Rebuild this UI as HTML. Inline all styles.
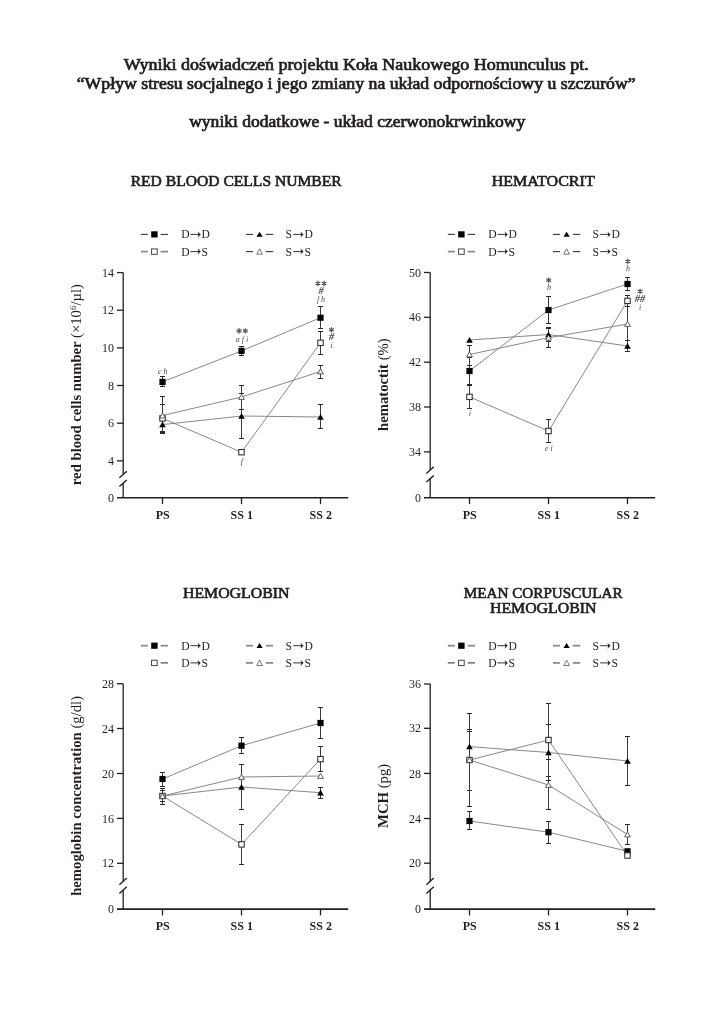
<!DOCTYPE html>
<html><head><meta charset="utf-8"><title>Wyniki</title>
<style>
html,body{margin:0;padding:0;background:#fff;}
body{width:725px;height:1024px;overflow:hidden;}
svg{display:block;font-family:"Liberation Serif", serif;will-change:transform;opacity:0.999;}
</style></head><body>
<svg width="725" height="1024" viewBox="0 0 725 1024">

<text x="356.20" y="69.50" font-size="16" font-weight="normal" font-style="normal" text-anchor="middle" fill="#231f20" stroke="#231f20" stroke-width="0.7" textLength="465" lengthAdjust="spacingAndGlyphs">Wyniki doświadczeń projektu Koła Naukowego Homunculus pt.</text>
<text x="356.20" y="88.70" font-size="16" font-weight="normal" font-style="normal" text-anchor="middle" fill="#231f20" stroke="#231f20" stroke-width="0.7" textLength="559" lengthAdjust="spacingAndGlyphs">“Wpływ stresu socjalnego i jego zmiany na układ odpornościowy u szczurów”</text>
<text x="357.20" y="126.80" font-size="16" font-weight="normal" font-style="normal" text-anchor="middle" fill="#231f20" stroke="#231f20" stroke-width="0.7" textLength="336" lengthAdjust="spacingAndGlyphs">wyniki dodatkowe - układ czerwonokrwinkowy</text>
<text x="236.20" y="186.30" font-size="14" font-weight="normal" font-style="normal" text-anchor="middle" fill="#231f20" stroke="#231f20" stroke-width="0.6" textLength="211" lengthAdjust="spacingAndGlyphs">RED BLOOD CELLS NUMBER</text>
<line x1="140.80" y1="234.40" x2="147.80" y2="234.40" stroke="#383838" stroke-width="1.1" />
<line x1="160.60" y1="234.40" x2="168.00" y2="234.40" stroke="#383838" stroke-width="1.1" />
<rect x="151.20" y="231.30" width="6.4" height="6.2" fill="#000"/>
<text x="181.20" y="238.40" font-size="11.6" font-weight="normal" font-style="normal" text-anchor="start" fill="#231f20" >D</text>
<line x1="190.40" y1="234.40" x2="199.30" y2="234.40" stroke="#333" stroke-width="1.0" />
<path d="M200.80,234.40 L197.60,231.40 L198.60,234.40 L197.60,237.40 Z" fill="#222"/>
<text x="201.60" y="238.40" font-size="11.6" font-weight="normal" font-style="normal" text-anchor="start" fill="#231f20" >D</text>
<line x1="140.80" y1="251.60" x2="147.80" y2="251.60" stroke="#8c8c8c" stroke-width="1.8" />
<line x1="160.60" y1="251.60" x2="168.00" y2="251.60" stroke="#8c8c8c" stroke-width="1.8" />
<rect x="151.60" y="248.90" width="5.6" height="5.4" fill="#fff" stroke="#333" stroke-width="0.9"/>
<text x="181.20" y="255.60" font-size="11.6" font-weight="normal" font-style="normal" text-anchor="start" fill="#231f20" >D</text>
<line x1="190.40" y1="251.60" x2="199.30" y2="251.60" stroke="#333" stroke-width="1.0" />
<path d="M200.80,251.60 L197.60,248.60 L198.60,251.60 L197.60,254.60 Z" fill="#222"/>
<text x="201.60" y="255.60" font-size="11.6" font-weight="normal" font-style="normal" text-anchor="start" fill="#231f20" >S</text>
<line x1="246.00" y1="234.40" x2="253.00" y2="234.40" stroke="#383838" stroke-width="1.1" />
<line x1="265.80" y1="234.40" x2="273.20" y2="234.40" stroke="#383838" stroke-width="1.1" />
<polygon points="259.60,231.80 262.70,236.80 256.50,236.80" fill="#000"/>
<text x="285.60" y="238.40" font-size="11.6" font-weight="normal" font-style="normal" text-anchor="start" fill="#231f20" >S</text>
<line x1="293.20" y1="234.40" x2="302.10" y2="234.40" stroke="#333" stroke-width="1.0" />
<path d="M303.60,234.40 L300.40,231.40 L301.40,234.40 L300.40,237.40 Z" fill="#222"/>
<text x="304.40" y="238.40" font-size="11.6" font-weight="normal" font-style="normal" text-anchor="start" fill="#231f20" >D</text>
<line x1="246.00" y1="251.60" x2="253.00" y2="251.60" stroke="#383838" stroke-width="1.1" />
<line x1="265.80" y1="251.60" x2="273.20" y2="251.60" stroke="#383838" stroke-width="1.1" />
<polygon points="259.60,248.80 262.40,254.20 256.80,254.20" fill="#fff" stroke="#555" stroke-width="0.8"/>
<text x="285.60" y="255.60" font-size="11.6" font-weight="normal" font-style="normal" text-anchor="start" fill="#231f20" >S</text>
<line x1="293.20" y1="251.60" x2="302.10" y2="251.60" stroke="#333" stroke-width="1.0" />
<path d="M303.60,251.60 L300.40,248.60 L301.40,251.60 L300.40,254.60 Z" fill="#222"/>
<text x="304.40" y="255.60" font-size="11.6" font-weight="normal" font-style="normal" text-anchor="start" fill="#231f20" >S</text>
<line x1="123.20" y1="272.60" x2="123.20" y2="474.50" stroke="#231f20" stroke-width="1.3" />
<line x1="123.20" y1="483.30" x2="123.20" y2="497.80" stroke="#231f20" stroke-width="1.3" />
<line x1="119.40" y1="477.80" x2="126.80" y2="471.20" stroke="#231f20" stroke-width="1.4" />
<line x1="119.40" y1="486.60" x2="126.80" y2="480.00" stroke="#231f20" stroke-width="1.4" />
<line x1="117.00" y1="272.60" x2="123.20" y2="272.60" stroke="#231f20" stroke-width="1.3" />
<text x="113.90" y="276.70" font-size="12" font-weight="normal" font-style="normal" text-anchor="end" fill="#231f20" >14</text>
<line x1="117.00" y1="310.20" x2="123.20" y2="310.20" stroke="#231f20" stroke-width="1.3" />
<text x="113.90" y="314.30" font-size="12" font-weight="normal" font-style="normal" text-anchor="end" fill="#231f20" >12</text>
<line x1="117.00" y1="347.90" x2="123.20" y2="347.90" stroke="#231f20" stroke-width="1.3" />
<text x="113.90" y="352.00" font-size="12" font-weight="normal" font-style="normal" text-anchor="end" fill="#231f20" >10</text>
<line x1="117.00" y1="385.50" x2="123.20" y2="385.50" stroke="#231f20" stroke-width="1.3" />
<text x="113.90" y="389.60" font-size="12" font-weight="normal" font-style="normal" text-anchor="end" fill="#231f20" >8</text>
<line x1="117.00" y1="423.20" x2="123.20" y2="423.20" stroke="#231f20" stroke-width="1.3" />
<text x="113.90" y="427.30" font-size="12" font-weight="normal" font-style="normal" text-anchor="end" fill="#231f20" >6</text>
<line x1="117.00" y1="460.90" x2="123.20" y2="460.90" stroke="#231f20" stroke-width="1.3" />
<text x="113.90" y="465.00" font-size="12" font-weight="normal" font-style="normal" text-anchor="end" fill="#231f20" >4</text>
<line x1="117.00" y1="497.80" x2="348.20" y2="497.80" stroke="#231f20" stroke-width="1.6" />
<text x="113.90" y="501.90" font-size="12" font-weight="normal" font-style="normal" text-anchor="end" fill="#231f20" >0</text>
<line x1="162.50" y1="497.80" x2="162.50" y2="504.10" stroke="#231f20" stroke-width="1.3" />
<text x="162.80" y="518.80" font-size="12" font-weight="bold" font-style="normal" text-anchor="middle" fill="#231f20" >PS</text>
<line x1="241.50" y1="497.80" x2="241.50" y2="504.10" stroke="#231f20" stroke-width="1.3" />
<text x="241.80" y="518.80" font-size="12" font-weight="bold" font-style="normal" text-anchor="middle" fill="#231f20" >SS 1</text>
<line x1="320.50" y1="497.80" x2="320.50" y2="504.10" stroke="#231f20" stroke-width="1.3" />
<text x="320.80" y="518.80" font-size="12" font-weight="bold" font-style="normal" text-anchor="middle" fill="#231f20" >SS 2</text>
<text transform="translate(81.00,384.60) rotate(-90)" x="0" y="0" font-size="14.7" text-anchor="middle" fill="#231f20"><tspan font-weight="bold">red blood cells number </tspan><tspan font-weight="normal">(×10<tspan dy="-5" font-size="9">6</tspan><tspan dy="5">/µl)</tspan></tspan></text>
<polyline points="162.50,381.90 241.50,350.90 320.50,317.70" fill="none" stroke="#7a7a7a" stroke-width="0.9"/>
<polyline points="162.50,418.40 241.50,452.20 320.50,342.80" fill="none" stroke="#7a7a7a" stroke-width="0.9"/>
<polyline points="162.50,424.60 241.50,416.00 320.50,417.00" fill="none" stroke="#7a7a7a" stroke-width="0.9"/>
<polyline points="162.50,415.50 241.50,397.00 320.50,371.50" fill="none" stroke="#7a7a7a" stroke-width="0.9"/>
<line x1="162.50" y1="376.50" x2="162.50" y2="381.90" stroke="#3a3a3a" stroke-width="1.0" />
<line x1="160.00" y1="376.50" x2="165.00" y2="376.50" stroke="#2a2a2a" stroke-width="1.0" />
<line x1="162.50" y1="381.90" x2="162.50" y2="386.50" stroke="#3a3a3a" stroke-width="1.0" />
<line x1="160.00" y1="386.50" x2="165.00" y2="386.50" stroke="#2a2a2a" stroke-width="1.0" />
<line x1="241.50" y1="346.50" x2="241.50" y2="350.90" stroke="#3a3a3a" stroke-width="1.0" />
<line x1="239.00" y1="346.50" x2="244.00" y2="346.50" stroke="#2a2a2a" stroke-width="1.0" />
<line x1="241.50" y1="350.90" x2="241.50" y2="355.50" stroke="#3a3a3a" stroke-width="1.0" />
<line x1="239.00" y1="355.50" x2="244.00" y2="355.50" stroke="#2a2a2a" stroke-width="1.0" />
<line x1="320.50" y1="306.50" x2="320.50" y2="317.70" stroke="#3a3a3a" stroke-width="1.0" />
<line x1="318.00" y1="306.50" x2="323.00" y2="306.50" stroke="#2a2a2a" stroke-width="1.0" />
<line x1="320.50" y1="317.70" x2="320.50" y2="328.50" stroke="#3a3a3a" stroke-width="1.0" />
<line x1="318.00" y1="328.50" x2="323.00" y2="328.50" stroke="#2a2a2a" stroke-width="1.0" />
<line x1="162.50" y1="404.50" x2="162.50" y2="418.40" stroke="#3a3a3a" stroke-width="1.0" />
<line x1="160.00" y1="404.50" x2="165.00" y2="404.50" stroke="#2a2a2a" stroke-width="1.0" />
<line x1="162.50" y1="418.40" x2="162.50" y2="432.50" stroke="#3a3a3a" stroke-width="1.0" />
<line x1="160.00" y1="432.50" x2="165.00" y2="432.50" stroke="#2a2a2a" stroke-width="1.0" />
<line x1="320.50" y1="331.50" x2="320.50" y2="342.80" stroke="#3a3a3a" stroke-width="1.0" />
<line x1="318.00" y1="331.50" x2="323.00" y2="331.50" stroke="#2a2a2a" stroke-width="1.0" />
<line x1="320.50" y1="342.80" x2="320.50" y2="354.50" stroke="#3a3a3a" stroke-width="1.0" />
<line x1="318.00" y1="354.50" x2="323.00" y2="354.50" stroke="#2a2a2a" stroke-width="1.0" />
<line x1="162.50" y1="418.50" x2="162.50" y2="424.60" stroke="#3a3a3a" stroke-width="1.0" />
<line x1="160.00" y1="418.50" x2="165.00" y2="418.50" stroke="#2a2a2a" stroke-width="1.0" />
<line x1="162.50" y1="424.60" x2="162.50" y2="431.50" stroke="#3a3a3a" stroke-width="1.0" />
<line x1="160.00" y1="431.50" x2="165.00" y2="431.50" stroke="#2a2a2a" stroke-width="1.0" />
<line x1="241.50" y1="393.50" x2="241.50" y2="416.00" stroke="#3a3a3a" stroke-width="1.0" />
<line x1="239.00" y1="393.50" x2="244.00" y2="393.50" stroke="#2a2a2a" stroke-width="1.0" />
<line x1="241.50" y1="416.00" x2="241.50" y2="438.50" stroke="#3a3a3a" stroke-width="1.0" />
<line x1="239.00" y1="438.50" x2="244.00" y2="438.50" stroke="#2a2a2a" stroke-width="1.0" />
<line x1="320.50" y1="404.50" x2="320.50" y2="417.00" stroke="#3a3a3a" stroke-width="1.0" />
<line x1="318.00" y1="404.50" x2="323.00" y2="404.50" stroke="#2a2a2a" stroke-width="1.0" />
<line x1="320.50" y1="417.00" x2="320.50" y2="428.50" stroke="#3a3a3a" stroke-width="1.0" />
<line x1="318.00" y1="428.50" x2="323.00" y2="428.50" stroke="#2a2a2a" stroke-width="1.0" />
<line x1="162.50" y1="396.50" x2="162.50" y2="415.50" stroke="#3a3a3a" stroke-width="1.0" />
<line x1="160.00" y1="396.50" x2="165.00" y2="396.50" stroke="#2a2a2a" stroke-width="1.0" />
<line x1="162.50" y1="415.50" x2="162.50" y2="433.50" stroke="#3a3a3a" stroke-width="1.0" />
<line x1="160.00" y1="433.50" x2="165.00" y2="433.50" stroke="#2a2a2a" stroke-width="1.0" />
<line x1="241.50" y1="385.50" x2="241.50" y2="397.00" stroke="#3a3a3a" stroke-width="1.0" />
<line x1="239.00" y1="385.50" x2="244.00" y2="385.50" stroke="#2a2a2a" stroke-width="1.0" />
<line x1="241.50" y1="397.00" x2="241.50" y2="409.50" stroke="#3a3a3a" stroke-width="1.0" />
<line x1="239.00" y1="409.50" x2="244.00" y2="409.50" stroke="#2a2a2a" stroke-width="1.0" />
<line x1="320.50" y1="365.50" x2="320.50" y2="371.50" stroke="#3a3a3a" stroke-width="1.0" />
<line x1="318.00" y1="365.50" x2="323.00" y2="365.50" stroke="#2a2a2a" stroke-width="1.0" />
<line x1="320.50" y1="371.50" x2="320.50" y2="378.50" stroke="#3a3a3a" stroke-width="1.0" />
<line x1="318.00" y1="378.50" x2="323.00" y2="378.50" stroke="#2a2a2a" stroke-width="1.0" />
<rect x="159.40" y="378.80" width="6.2" height="6.2" fill="#000"/>
<rect x="238.40" y="347.80" width="6.2" height="6.2" fill="#000"/>
<rect x="317.40" y="314.60" width="6.2" height="6.2" fill="#000"/>
<rect x="159.80" y="415.70" width="5.4" height="5.4" fill="#fff" stroke="#222" stroke-width="1.0"/>
<rect x="238.80" y="449.50" width="5.4" height="5.4" fill="#fff" stroke="#222" stroke-width="1.0"/>
<rect x="317.80" y="340.10" width="5.4" height="5.4" fill="#fff" stroke="#222" stroke-width="1.0"/>
<polygon points="162.50,421.50 165.80,427.30 159.20,427.30" fill="#000"/>
<polygon points="241.50,412.90 244.80,418.70 238.20,418.70" fill="#000"/>
<polygon points="320.50,413.90 323.80,419.70 317.20,419.70" fill="#000"/>
<polygon points="162.50,412.80 165.40,417.90 159.60,417.90" fill="#fff" stroke="#444" stroke-width="0.85"/>
<polygon points="241.50,394.30 244.40,399.40 238.60,399.40" fill="#fff" stroke="#444" stroke-width="0.85"/>
<polygon points="320.50,368.80 323.40,373.90 317.60,373.90" fill="#fff" stroke="#444" stroke-width="0.85"/>
<text x="162.80" y="373.70" font-size="8" font-weight="normal" font-style="italic" text-anchor="middle" fill="#4a4a4a" >c h</text>
<path d="M239.10,328.60 L239.10,333.20 M237.11,329.75 L241.09,332.05 M241.09,329.75 L237.11,332.05 " stroke="#555" stroke-width="1.2" stroke-linecap="round" fill="none"/>
<path d="M245.30,328.60 L245.30,333.20 M243.31,329.75 L247.29,332.05 M247.29,329.75 L243.31,332.05 " stroke="#555" stroke-width="1.2" stroke-linecap="round" fill="none"/>
<text x="241.90" y="341.50" font-size="8" font-weight="normal" font-style="italic" text-anchor="middle" fill="#4a4a4a" >a f i</text>
<text x="241.90" y="463.80" font-size="8" font-weight="normal" font-style="italic" text-anchor="middle" fill="#4a4a4a" >f</text>
<path d="M317.90,281.20 L317.90,285.80 M315.91,282.35 L319.89,284.65 M319.89,282.35 L315.91,284.65 " stroke="#555" stroke-width="1.2" stroke-linecap="round" fill="none"/>
<path d="M324.10,281.20 L324.10,285.80 M322.11,282.35 L326.09,284.65 M326.09,282.35 L322.11,284.65 " stroke="#555" stroke-width="1.2" stroke-linecap="round" fill="none"/>
<text x="321.00" y="293.80" font-size="10.5" font-weight="bold" font-style="italic" text-anchor="middle" fill="#4a4a4a" >#</text>
<text x="321.00" y="301.60" font-size="8" font-weight="normal" font-style="italic" text-anchor="middle" fill="#4a4a4a" >f h</text>
<path d="M331.50,327.50 L331.50,332.10 M329.51,328.65 L333.49,330.95 M333.49,328.65 L329.51,330.95 " stroke="#555" stroke-width="1.2" stroke-linecap="round" fill="none"/>
<text x="331.50" y="340.30" font-size="10.5" font-weight="bold" font-style="italic" text-anchor="middle" fill="#4a4a4a" >#</text>
<text x="331.50" y="348.00" font-size="8" font-weight="normal" font-style="italic" text-anchor="middle" fill="#4a4a4a" >i</text>
<text x="543.20" y="186.30" font-size="14" font-weight="normal" font-style="normal" text-anchor="middle" fill="#231f20" stroke="#231f20" stroke-width="0.6" textLength="103" lengthAdjust="spacingAndGlyphs">HEMATOCRIT</text>
<line x1="447.80" y1="234.40" x2="454.80" y2="234.40" stroke="#383838" stroke-width="1.1" />
<line x1="467.60" y1="234.40" x2="475.00" y2="234.40" stroke="#383838" stroke-width="1.1" />
<rect x="458.20" y="231.30" width="6.4" height="6.2" fill="#000"/>
<text x="488.20" y="238.40" font-size="11.6" font-weight="normal" font-style="normal" text-anchor="start" fill="#231f20" >D</text>
<line x1="497.40" y1="234.40" x2="506.30" y2="234.40" stroke="#333" stroke-width="1.0" />
<path d="M507.80,234.40 L504.60,231.40 L505.60,234.40 L504.60,237.40 Z" fill="#222"/>
<text x="508.60" y="238.40" font-size="11.6" font-weight="normal" font-style="normal" text-anchor="start" fill="#231f20" >D</text>
<line x1="447.80" y1="251.60" x2="454.80" y2="251.60" stroke="#8c8c8c" stroke-width="1.8" />
<line x1="467.60" y1="251.60" x2="475.00" y2="251.60" stroke="#8c8c8c" stroke-width="1.8" />
<rect x="458.60" y="248.90" width="5.6" height="5.4" fill="#fff" stroke="#333" stroke-width="0.9"/>
<text x="488.20" y="255.60" font-size="11.6" font-weight="normal" font-style="normal" text-anchor="start" fill="#231f20" >D</text>
<line x1="497.40" y1="251.60" x2="506.30" y2="251.60" stroke="#333" stroke-width="1.0" />
<path d="M507.80,251.60 L504.60,248.60 L505.60,251.60 L504.60,254.60 Z" fill="#222"/>
<text x="508.60" y="255.60" font-size="11.6" font-weight="normal" font-style="normal" text-anchor="start" fill="#231f20" >S</text>
<line x1="553.00" y1="234.40" x2="560.00" y2="234.40" stroke="#383838" stroke-width="1.1" />
<line x1="572.80" y1="234.40" x2="580.20" y2="234.40" stroke="#383838" stroke-width="1.1" />
<polygon points="566.60,231.80 569.70,236.80 563.50,236.80" fill="#000"/>
<text x="592.60" y="238.40" font-size="11.6" font-weight="normal" font-style="normal" text-anchor="start" fill="#231f20" >S</text>
<line x1="600.20" y1="234.40" x2="609.10" y2="234.40" stroke="#333" stroke-width="1.0" />
<path d="M610.60,234.40 L607.40,231.40 L608.40,234.40 L607.40,237.40 Z" fill="#222"/>
<text x="611.40" y="238.40" font-size="11.6" font-weight="normal" font-style="normal" text-anchor="start" fill="#231f20" >D</text>
<line x1="553.00" y1="251.60" x2="560.00" y2="251.60" stroke="#383838" stroke-width="1.1" />
<line x1="572.80" y1="251.60" x2="580.20" y2="251.60" stroke="#383838" stroke-width="1.1" />
<polygon points="566.60,248.80 569.40,254.20 563.80,254.20" fill="#fff" stroke="#555" stroke-width="0.8"/>
<text x="592.60" y="255.60" font-size="11.6" font-weight="normal" font-style="normal" text-anchor="start" fill="#231f20" >S</text>
<line x1="600.20" y1="251.60" x2="609.10" y2="251.60" stroke="#333" stroke-width="1.0" />
<path d="M610.60,251.60 L607.40,248.60 L608.40,251.60 L607.40,254.60 Z" fill="#222"/>
<text x="611.40" y="255.60" font-size="11.6" font-weight="normal" font-style="normal" text-anchor="start" fill="#231f20" >S</text>
<line x1="430.20" y1="272.50" x2="430.20" y2="470.10" stroke="#231f20" stroke-width="1.3" />
<line x1="430.20" y1="478.80" x2="430.20" y2="497.80" stroke="#231f20" stroke-width="1.3" />
<line x1="426.40" y1="473.40" x2="433.80" y2="466.80" stroke="#231f20" stroke-width="1.4" />
<line x1="426.40" y1="482.10" x2="433.80" y2="475.50" stroke="#231f20" stroke-width="1.4" />
<line x1="424.00" y1="272.50" x2="430.20" y2="272.50" stroke="#231f20" stroke-width="1.3" />
<text x="420.90" y="276.60" font-size="12" font-weight="normal" font-style="normal" text-anchor="end" fill="#231f20" >50</text>
<line x1="424.00" y1="317.30" x2="430.20" y2="317.30" stroke="#231f20" stroke-width="1.3" />
<text x="420.90" y="321.40" font-size="12" font-weight="normal" font-style="normal" text-anchor="end" fill="#231f20" >46</text>
<line x1="424.00" y1="362.20" x2="430.20" y2="362.20" stroke="#231f20" stroke-width="1.3" />
<text x="420.90" y="366.30" font-size="12" font-weight="normal" font-style="normal" text-anchor="end" fill="#231f20" >42</text>
<line x1="424.00" y1="407.00" x2="430.20" y2="407.00" stroke="#231f20" stroke-width="1.3" />
<text x="420.90" y="411.10" font-size="12" font-weight="normal" font-style="normal" text-anchor="end" fill="#231f20" >38</text>
<line x1="424.00" y1="451.90" x2="430.20" y2="451.90" stroke="#231f20" stroke-width="1.3" />
<text x="420.90" y="456.00" font-size="12" font-weight="normal" font-style="normal" text-anchor="end" fill="#231f20" >34</text>
<line x1="424.00" y1="497.80" x2="655.20" y2="497.80" stroke="#231f20" stroke-width="1.6" />
<text x="420.90" y="501.90" font-size="12" font-weight="normal" font-style="normal" text-anchor="end" fill="#231f20" >0</text>
<line x1="469.50" y1="497.80" x2="469.50" y2="504.10" stroke="#231f20" stroke-width="1.3" />
<text x="469.80" y="518.80" font-size="12" font-weight="bold" font-style="normal" text-anchor="middle" fill="#231f20" >PS</text>
<line x1="548.50" y1="497.80" x2="548.50" y2="504.10" stroke="#231f20" stroke-width="1.3" />
<text x="548.80" y="518.80" font-size="12" font-weight="bold" font-style="normal" text-anchor="middle" fill="#231f20" >SS 1</text>
<line x1="627.50" y1="497.80" x2="627.50" y2="504.10" stroke="#231f20" stroke-width="1.3" />
<text x="627.80" y="518.80" font-size="12" font-weight="bold" font-style="normal" text-anchor="middle" fill="#231f20" >SS 2</text>
<text transform="translate(388.00,384.60) rotate(-90)" x="0" y="0" font-size="14.7" text-anchor="middle" fill="#231f20"><tspan font-weight="bold">hematoctit </tspan><tspan font-weight="normal">(%)</tspan></text>
<polyline points="469.50,371.00 548.50,310.00 627.50,284.00" fill="none" stroke="#7a7a7a" stroke-width="0.9"/>
<polyline points="469.50,396.90 548.50,431.00 627.50,300.90" fill="none" stroke="#7a7a7a" stroke-width="0.9"/>
<polyline points="469.50,340.00 548.50,334.50 627.50,346.00" fill="none" stroke="#7a7a7a" stroke-width="0.9"/>
<polyline points="469.50,354.50 548.50,337.70 627.50,324.00" fill="none" stroke="#7a7a7a" stroke-width="0.9"/>
<line x1="469.50" y1="357.50" x2="469.50" y2="371.00" stroke="#3a3a3a" stroke-width="1.0" />
<line x1="467.00" y1="357.50" x2="472.00" y2="357.50" stroke="#2a2a2a" stroke-width="1.0" />
<line x1="469.50" y1="371.00" x2="469.50" y2="384.50" stroke="#3a3a3a" stroke-width="1.0" />
<line x1="467.00" y1="384.50" x2="472.00" y2="384.50" stroke="#2a2a2a" stroke-width="1.0" />
<line x1="548.50" y1="296.50" x2="548.50" y2="310.00" stroke="#3a3a3a" stroke-width="1.0" />
<line x1="546.00" y1="296.50" x2="551.00" y2="296.50" stroke="#2a2a2a" stroke-width="1.0" />
<line x1="548.50" y1="310.00" x2="548.50" y2="323.50" stroke="#3a3a3a" stroke-width="1.0" />
<line x1="546.00" y1="323.50" x2="551.00" y2="323.50" stroke="#2a2a2a" stroke-width="1.0" />
<line x1="627.50" y1="277.50" x2="627.50" y2="284.00" stroke="#3a3a3a" stroke-width="1.0" />
<line x1="625.00" y1="277.50" x2="630.00" y2="277.50" stroke="#2a2a2a" stroke-width="1.0" />
<line x1="627.50" y1="284.00" x2="627.50" y2="290.50" stroke="#3a3a3a" stroke-width="1.0" />
<line x1="625.00" y1="290.50" x2="630.00" y2="290.50" stroke="#2a2a2a" stroke-width="1.0" />
<line x1="469.50" y1="385.50" x2="469.50" y2="396.90" stroke="#3a3a3a" stroke-width="1.0" />
<line x1="467.00" y1="385.50" x2="472.00" y2="385.50" stroke="#2a2a2a" stroke-width="1.0" />
<line x1="469.50" y1="396.90" x2="469.50" y2="408.50" stroke="#3a3a3a" stroke-width="1.0" />
<line x1="467.00" y1="408.50" x2="472.00" y2="408.50" stroke="#2a2a2a" stroke-width="1.0" />
<line x1="548.50" y1="419.50" x2="548.50" y2="431.00" stroke="#3a3a3a" stroke-width="1.0" />
<line x1="546.00" y1="419.50" x2="551.00" y2="419.50" stroke="#2a2a2a" stroke-width="1.0" />
<line x1="548.50" y1="431.00" x2="548.50" y2="442.50" stroke="#3a3a3a" stroke-width="1.0" />
<line x1="546.00" y1="442.50" x2="551.00" y2="442.50" stroke="#2a2a2a" stroke-width="1.0" />
<line x1="627.50" y1="295.50" x2="627.50" y2="300.90" stroke="#3a3a3a" stroke-width="1.0" />
<line x1="625.00" y1="295.50" x2="630.00" y2="295.50" stroke="#2a2a2a" stroke-width="1.0" />
<line x1="627.50" y1="300.90" x2="627.50" y2="306.50" stroke="#3a3a3a" stroke-width="1.0" />
<line x1="625.00" y1="306.50" x2="630.00" y2="306.50" stroke="#2a2a2a" stroke-width="1.0" />
<line x1="548.50" y1="327.50" x2="548.50" y2="334.50" stroke="#3a3a3a" stroke-width="1.0" />
<line x1="546.00" y1="327.50" x2="551.00" y2="327.50" stroke="#2a2a2a" stroke-width="1.0" />
<line x1="548.50" y1="334.50" x2="548.50" y2="341.50" stroke="#3a3a3a" stroke-width="1.0" />
<line x1="546.00" y1="341.50" x2="551.00" y2="341.50" stroke="#2a2a2a" stroke-width="1.0" />
<line x1="627.50" y1="340.50" x2="627.50" y2="346.00" stroke="#3a3a3a" stroke-width="1.0" />
<line x1="625.00" y1="340.50" x2="630.00" y2="340.50" stroke="#2a2a2a" stroke-width="1.0" />
<line x1="627.50" y1="346.00" x2="627.50" y2="351.50" stroke="#3a3a3a" stroke-width="1.0" />
<line x1="625.00" y1="351.50" x2="630.00" y2="351.50" stroke="#2a2a2a" stroke-width="1.0" />
<line x1="469.50" y1="345.50" x2="469.50" y2="354.50" stroke="#3a3a3a" stroke-width="1.0" />
<line x1="467.00" y1="345.50" x2="472.00" y2="345.50" stroke="#2a2a2a" stroke-width="1.0" />
<line x1="469.50" y1="354.50" x2="469.50" y2="365.50" stroke="#3a3a3a" stroke-width="1.0" />
<line x1="467.00" y1="365.50" x2="472.00" y2="365.50" stroke="#2a2a2a" stroke-width="1.0" />
<line x1="548.50" y1="328.50" x2="548.50" y2="337.70" stroke="#3a3a3a" stroke-width="1.0" />
<line x1="546.00" y1="328.50" x2="551.00" y2="328.50" stroke="#2a2a2a" stroke-width="1.0" />
<line x1="548.50" y1="337.70" x2="548.50" y2="347.50" stroke="#3a3a3a" stroke-width="1.0" />
<line x1="546.00" y1="347.50" x2="551.00" y2="347.50" stroke="#2a2a2a" stroke-width="1.0" />
<line x1="627.50" y1="306.50" x2="627.50" y2="324.00" stroke="#3a3a3a" stroke-width="1.0" />
<line x1="625.00" y1="306.50" x2="630.00" y2="306.50" stroke="#2a2a2a" stroke-width="1.0" />
<line x1="627.50" y1="324.00" x2="627.50" y2="340.50" stroke="#3a3a3a" stroke-width="1.0" />
<line x1="625.00" y1="340.50" x2="630.00" y2="340.50" stroke="#2a2a2a" stroke-width="1.0" />
<rect x="466.40" y="367.90" width="6.2" height="6.2" fill="#000"/>
<rect x="545.40" y="306.90" width="6.2" height="6.2" fill="#000"/>
<rect x="624.40" y="280.90" width="6.2" height="6.2" fill="#000"/>
<rect x="466.80" y="394.20" width="5.4" height="5.4" fill="#fff" stroke="#222" stroke-width="1.0"/>
<rect x="545.80" y="428.30" width="5.4" height="5.4" fill="#fff" stroke="#222" stroke-width="1.0"/>
<rect x="624.80" y="298.20" width="5.4" height="5.4" fill="#fff" stroke="#222" stroke-width="1.0"/>
<polygon points="469.50,336.90 472.80,342.70 466.20,342.70" fill="#000"/>
<polygon points="548.50,331.40 551.80,337.20 545.20,337.20" fill="#000"/>
<polygon points="627.50,342.90 630.80,348.70 624.20,348.70" fill="#000"/>
<polygon points="469.50,351.80 472.40,356.90 466.60,356.90" fill="#fff" stroke="#444" stroke-width="0.85"/>
<polygon points="548.50,335.00 551.40,340.10 545.60,340.10" fill="#fff" stroke="#444" stroke-width="0.85"/>
<polygon points="627.50,321.30 630.40,326.40 624.60,326.40" fill="#fff" stroke="#444" stroke-width="0.85"/>
<text x="469.80" y="416.00" font-size="8" font-weight="normal" font-style="italic" text-anchor="middle" fill="#4a4a4a" >i</text>
<path d="M548.70,277.80 L548.70,282.40 M546.71,278.95 L550.69,281.25 M550.69,278.95 L546.71,281.25 " stroke="#555" stroke-width="1.2" stroke-linecap="round" fill="none"/>
<text x="548.90" y="289.50" font-size="8" font-weight="normal" font-style="italic" text-anchor="middle" fill="#4a4a4a" >b</text>
<text x="548.90" y="451.00" font-size="8" font-weight="normal" font-style="italic" text-anchor="middle" fill="#4a4a4a" >e i</text>
<path d="M627.80,259.10 L627.80,263.70 M625.81,260.25 L629.79,262.55 M629.79,260.25 L625.81,262.55 " stroke="#555" stroke-width="1.2" stroke-linecap="round" fill="none"/>
<text x="628.00" y="271.00" font-size="8" font-weight="normal" font-style="italic" text-anchor="middle" fill="#4a4a4a" >h</text>
<path d="M640.10,289.00 L640.10,293.60 M638.11,290.15 L642.09,292.45 M642.09,290.15 L638.11,292.45 " stroke="#555" stroke-width="1.2" stroke-linecap="round" fill="none"/>
<text x="640.00" y="302.40" font-size="10.5" font-weight="bold" font-style="italic" text-anchor="middle" fill="#4a4a4a" >##</text>
<text x="640.00" y="310.00" font-size="8" font-weight="normal" font-style="italic" text-anchor="middle" fill="#4a4a4a" >i</text>
<text x="236.20" y="597.60" font-size="14" font-weight="normal" font-style="normal" text-anchor="middle" fill="#231f20" stroke="#231f20" stroke-width="0.6" textLength="106.5" lengthAdjust="spacingAndGlyphs">HEMOGLOBIN</text>
<line x1="140.80" y1="645.70" x2="147.80" y2="645.70" stroke="#8c8c8c" stroke-width="1.8" />
<line x1="160.60" y1="645.70" x2="168.00" y2="645.70" stroke="#8c8c8c" stroke-width="1.8" />
<rect x="151.20" y="642.60" width="6.4" height="6.2" fill="#000"/>
<text x="181.20" y="649.70" font-size="11.6" font-weight="normal" font-style="normal" text-anchor="start" fill="#231f20" >D</text>
<line x1="190.40" y1="645.70" x2="199.30" y2="645.70" stroke="#333" stroke-width="1.0" />
<path d="M200.80,645.70 L197.60,642.70 L198.60,645.70 L197.60,648.70 Z" fill="#222"/>
<text x="201.60" y="649.70" font-size="11.6" font-weight="normal" font-style="normal" text-anchor="start" fill="#231f20" >D</text>
<line x1="160.60" y1="662.90" x2="168.00" y2="662.90" stroke="#383838" stroke-width="1.1" />
<rect x="151.60" y="660.20" width="5.6" height="5.4" fill="#fff" stroke="#333" stroke-width="0.9"/>
<text x="181.20" y="666.90" font-size="11.6" font-weight="normal" font-style="normal" text-anchor="start" fill="#231f20" >D</text>
<line x1="190.40" y1="662.90" x2="199.30" y2="662.90" stroke="#333" stroke-width="1.0" />
<path d="M200.80,662.90 L197.60,659.90 L198.60,662.90 L197.60,665.90 Z" fill="#222"/>
<text x="201.60" y="666.90" font-size="11.6" font-weight="normal" font-style="normal" text-anchor="start" fill="#231f20" >S</text>
<line x1="246.00" y1="645.70" x2="253.00" y2="645.70" stroke="#8c8c8c" stroke-width="1.8" />
<line x1="265.80" y1="645.70" x2="273.20" y2="645.70" stroke="#8c8c8c" stroke-width="1.8" />
<polygon points="259.60,643.10 262.70,648.10 256.50,648.10" fill="#000"/>
<text x="285.60" y="649.70" font-size="11.6" font-weight="normal" font-style="normal" text-anchor="start" fill="#231f20" >S</text>
<line x1="293.20" y1="645.70" x2="302.10" y2="645.70" stroke="#333" stroke-width="1.0" />
<path d="M303.60,645.70 L300.40,642.70 L301.40,645.70 L300.40,648.70 Z" fill="#222"/>
<text x="304.40" y="649.70" font-size="11.6" font-weight="normal" font-style="normal" text-anchor="start" fill="#231f20" >D</text>
<line x1="246.00" y1="662.90" x2="253.00" y2="662.90" stroke="#8c8c8c" stroke-width="1.8" />
<line x1="265.80" y1="662.90" x2="273.20" y2="662.90" stroke="#8c8c8c" stroke-width="1.8" />
<polygon points="259.60,660.10 262.40,665.50 256.80,665.50" fill="#fff" stroke="#555" stroke-width="0.8"/>
<text x="285.60" y="666.90" font-size="11.6" font-weight="normal" font-style="normal" text-anchor="start" fill="#231f20" >S</text>
<line x1="293.20" y1="662.90" x2="302.10" y2="662.90" stroke="#333" stroke-width="1.0" />
<path d="M303.60,662.90 L300.40,659.90 L301.40,662.90 L300.40,665.90 Z" fill="#222"/>
<text x="304.40" y="666.90" font-size="11.6" font-weight="normal" font-style="normal" text-anchor="start" fill="#231f20" >S</text>
<line x1="123.20" y1="683.70" x2="123.20" y2="881.40" stroke="#231f20" stroke-width="1.3" />
<line x1="123.20" y1="890.10" x2="123.20" y2="909.10" stroke="#231f20" stroke-width="1.3" />
<line x1="119.40" y1="884.70" x2="126.80" y2="878.10" stroke="#231f20" stroke-width="1.4" />
<line x1="119.40" y1="893.40" x2="126.80" y2="886.80" stroke="#231f20" stroke-width="1.4" />
<line x1="117.00" y1="683.70" x2="123.20" y2="683.70" stroke="#231f20" stroke-width="1.3" />
<text x="113.90" y="687.80" font-size="12" font-weight="normal" font-style="normal" text-anchor="end" fill="#231f20" >28</text>
<line x1="117.00" y1="728.50" x2="123.20" y2="728.50" stroke="#231f20" stroke-width="1.3" />
<text x="113.90" y="732.60" font-size="12" font-weight="normal" font-style="normal" text-anchor="end" fill="#231f20" >24</text>
<line x1="117.00" y1="773.50" x2="123.20" y2="773.50" stroke="#231f20" stroke-width="1.3" />
<text x="113.90" y="777.60" font-size="12" font-weight="normal" font-style="normal" text-anchor="end" fill="#231f20" >20</text>
<line x1="117.00" y1="818.40" x2="123.20" y2="818.40" stroke="#231f20" stroke-width="1.3" />
<text x="113.90" y="822.50" font-size="12" font-weight="normal" font-style="normal" text-anchor="end" fill="#231f20" >16</text>
<line x1="117.00" y1="863.30" x2="123.20" y2="863.30" stroke="#231f20" stroke-width="1.3" />
<text x="113.90" y="867.40" font-size="12" font-weight="normal" font-style="normal" text-anchor="end" fill="#231f20" >12</text>
<line x1="117.00" y1="909.10" x2="348.20" y2="909.10" stroke="#231f20" stroke-width="1.6" />
<text x="113.90" y="913.20" font-size="12" font-weight="normal" font-style="normal" text-anchor="end" fill="#231f20" >0</text>
<line x1="162.50" y1="909.10" x2="162.50" y2="915.40" stroke="#231f20" stroke-width="1.3" />
<text x="162.80" y="930.10" font-size="12" font-weight="bold" font-style="normal" text-anchor="middle" fill="#231f20" >PS</text>
<line x1="241.50" y1="909.10" x2="241.50" y2="915.40" stroke="#231f20" stroke-width="1.3" />
<text x="241.80" y="930.10" font-size="12" font-weight="bold" font-style="normal" text-anchor="middle" fill="#231f20" >SS 1</text>
<line x1="320.50" y1="909.10" x2="320.50" y2="915.40" stroke="#231f20" stroke-width="1.3" />
<text x="320.80" y="930.10" font-size="12" font-weight="bold" font-style="normal" text-anchor="middle" fill="#231f20" >SS 2</text>
<text transform="translate(81.00,795.90) rotate(-90)" x="0" y="0" font-size="14.7" text-anchor="middle" fill="#231f20"><tspan font-weight="bold">hemoglobin concentration </tspan><tspan font-weight="normal">(g/dl)</tspan></text>
<polyline points="162.50,779.00 241.50,745.70 320.50,723.00" fill="none" stroke="#7a7a7a" stroke-width="0.9"/>
<polyline points="162.50,796.00 241.50,844.40 320.50,759.10" fill="none" stroke="#7a7a7a" stroke-width="0.9"/>
<polyline points="162.50,796.00 241.50,787.00 320.50,792.70" fill="none" stroke="#7a7a7a" stroke-width="0.9"/>
<polyline points="162.50,796.00 241.50,777.00 320.50,776.00" fill="none" stroke="#7a7a7a" stroke-width="0.9"/>
<line x1="162.50" y1="772.50" x2="162.50" y2="779.00" stroke="#3a3a3a" stroke-width="1.0" />
<line x1="160.00" y1="772.50" x2="165.00" y2="772.50" stroke="#2a2a2a" stroke-width="1.0" />
<line x1="162.50" y1="779.00" x2="162.50" y2="786.50" stroke="#3a3a3a" stroke-width="1.0" />
<line x1="160.00" y1="786.50" x2="165.00" y2="786.50" stroke="#2a2a2a" stroke-width="1.0" />
<line x1="241.50" y1="737.50" x2="241.50" y2="745.70" stroke="#3a3a3a" stroke-width="1.0" />
<line x1="239.00" y1="737.50" x2="244.00" y2="737.50" stroke="#2a2a2a" stroke-width="1.0" />
<line x1="241.50" y1="745.70" x2="241.50" y2="753.50" stroke="#3a3a3a" stroke-width="1.0" />
<line x1="239.00" y1="753.50" x2="244.00" y2="753.50" stroke="#2a2a2a" stroke-width="1.0" />
<line x1="320.50" y1="707.50" x2="320.50" y2="723.00" stroke="#3a3a3a" stroke-width="1.0" />
<line x1="318.00" y1="707.50" x2="323.00" y2="707.50" stroke="#2a2a2a" stroke-width="1.0" />
<line x1="320.50" y1="723.00" x2="320.50" y2="738.50" stroke="#3a3a3a" stroke-width="1.0" />
<line x1="318.00" y1="738.50" x2="323.00" y2="738.50" stroke="#2a2a2a" stroke-width="1.0" />
<line x1="162.50" y1="788.50" x2="162.50" y2="796.00" stroke="#3a3a3a" stroke-width="1.0" />
<line x1="160.00" y1="788.50" x2="165.00" y2="788.50" stroke="#2a2a2a" stroke-width="1.0" />
<line x1="162.50" y1="796.00" x2="162.50" y2="804.50" stroke="#3a3a3a" stroke-width="1.0" />
<line x1="160.00" y1="804.50" x2="165.00" y2="804.50" stroke="#2a2a2a" stroke-width="1.0" />
<line x1="241.50" y1="824.50" x2="241.50" y2="844.40" stroke="#3a3a3a" stroke-width="1.0" />
<line x1="239.00" y1="824.50" x2="244.00" y2="824.50" stroke="#2a2a2a" stroke-width="1.0" />
<line x1="241.50" y1="844.40" x2="241.50" y2="864.50" stroke="#3a3a3a" stroke-width="1.0" />
<line x1="239.00" y1="864.50" x2="244.00" y2="864.50" stroke="#2a2a2a" stroke-width="1.0" />
<line x1="320.50" y1="746.50" x2="320.50" y2="759.10" stroke="#3a3a3a" stroke-width="1.0" />
<line x1="318.00" y1="746.50" x2="323.00" y2="746.50" stroke="#2a2a2a" stroke-width="1.0" />
<line x1="320.50" y1="759.10" x2="320.50" y2="771.50" stroke="#3a3a3a" stroke-width="1.0" />
<line x1="318.00" y1="771.50" x2="323.00" y2="771.50" stroke="#2a2a2a" stroke-width="1.0" />
<line x1="162.50" y1="790.50" x2="162.50" y2="796.00" stroke="#3a3a3a" stroke-width="1.0" />
<line x1="160.00" y1="790.50" x2="165.00" y2="790.50" stroke="#2a2a2a" stroke-width="1.0" />
<line x1="162.50" y1="796.00" x2="162.50" y2="801.50" stroke="#3a3a3a" stroke-width="1.0" />
<line x1="160.00" y1="801.50" x2="165.00" y2="801.50" stroke="#2a2a2a" stroke-width="1.0" />
<line x1="241.50" y1="764.50" x2="241.50" y2="787.00" stroke="#3a3a3a" stroke-width="1.0" />
<line x1="239.00" y1="764.50" x2="244.00" y2="764.50" stroke="#2a2a2a" stroke-width="1.0" />
<line x1="241.50" y1="787.00" x2="241.50" y2="809.50" stroke="#3a3a3a" stroke-width="1.0" />
<line x1="239.00" y1="809.50" x2="244.00" y2="809.50" stroke="#2a2a2a" stroke-width="1.0" />
<line x1="320.50" y1="787.50" x2="320.50" y2="792.70" stroke="#3a3a3a" stroke-width="1.0" />
<line x1="318.00" y1="787.50" x2="323.00" y2="787.50" stroke="#2a2a2a" stroke-width="1.0" />
<line x1="320.50" y1="792.70" x2="320.50" y2="798.50" stroke="#3a3a3a" stroke-width="1.0" />
<line x1="318.00" y1="798.50" x2="323.00" y2="798.50" stroke="#2a2a2a" stroke-width="1.0" />
<rect x="159.40" y="775.90" width="6.2" height="6.2" fill="#000"/>
<rect x="238.40" y="742.60" width="6.2" height="6.2" fill="#000"/>
<rect x="317.40" y="719.90" width="6.2" height="6.2" fill="#000"/>
<rect x="159.80" y="793.30" width="5.4" height="5.4" fill="#fff" stroke="#222" stroke-width="1.0"/>
<rect x="238.80" y="841.70" width="5.4" height="5.4" fill="#fff" stroke="#222" stroke-width="1.0"/>
<rect x="317.80" y="756.40" width="5.4" height="5.4" fill="#fff" stroke="#222" stroke-width="1.0"/>
<polygon points="162.50,792.90 165.80,798.70 159.20,798.70" fill="#000"/>
<polygon points="241.50,783.90 244.80,789.70 238.20,789.70" fill="#000"/>
<polygon points="320.50,789.60 323.80,795.40 317.20,795.40" fill="#000"/>
<polygon points="162.50,793.30 165.40,798.40 159.60,798.40" fill="#fff" stroke="#444" stroke-width="0.85"/>
<polygon points="241.50,774.30 244.40,779.40 238.60,779.40" fill="#fff" stroke="#444" stroke-width="0.85"/>
<polygon points="320.50,773.30 323.40,778.40 317.60,778.40" fill="#fff" stroke="#444" stroke-width="0.85"/>
<text x="543.20" y="597.60" font-size="14" font-weight="normal" font-style="normal" text-anchor="middle" fill="#231f20" stroke="#231f20" stroke-width="0.6" textLength="159" lengthAdjust="spacingAndGlyphs">MEAN CORPUSCULAR</text>
<text x="543.20" y="613.40" font-size="14" font-weight="normal" font-style="normal" text-anchor="middle" fill="#231f20" stroke="#231f20" stroke-width="0.6" textLength="106.5" lengthAdjust="spacingAndGlyphs">HEMOGLOBIN</text>
<line x1="447.80" y1="645.70" x2="454.80" y2="645.70" stroke="#8c8c8c" stroke-width="1.8" />
<line x1="467.60" y1="645.70" x2="475.00" y2="645.70" stroke="#8c8c8c" stroke-width="1.8" />
<rect x="458.20" y="642.60" width="6.4" height="6.2" fill="#000"/>
<text x="488.20" y="649.70" font-size="11.6" font-weight="normal" font-style="normal" text-anchor="start" fill="#231f20" >D</text>
<line x1="497.40" y1="645.70" x2="506.30" y2="645.70" stroke="#333" stroke-width="1.0" />
<path d="M507.80,645.70 L504.60,642.70 L505.60,645.70 L504.60,648.70 Z" fill="#222"/>
<text x="508.60" y="649.70" font-size="11.6" font-weight="normal" font-style="normal" text-anchor="start" fill="#231f20" >D</text>
<line x1="447.80" y1="662.90" x2="454.80" y2="662.90" stroke="#383838" stroke-width="1.1" />
<line x1="467.60" y1="662.90" x2="475.00" y2="662.90" stroke="#383838" stroke-width="1.1" />
<rect x="458.60" y="660.20" width="5.6" height="5.4" fill="#fff" stroke="#333" stroke-width="0.9"/>
<text x="488.20" y="666.90" font-size="11.6" font-weight="normal" font-style="normal" text-anchor="start" fill="#231f20" >D</text>
<line x1="497.40" y1="662.90" x2="506.30" y2="662.90" stroke="#333" stroke-width="1.0" />
<path d="M507.80,662.90 L504.60,659.90 L505.60,662.90 L504.60,665.90 Z" fill="#222"/>
<text x="508.60" y="666.90" font-size="11.6" font-weight="normal" font-style="normal" text-anchor="start" fill="#231f20" >S</text>
<line x1="553.00" y1="645.70" x2="560.00" y2="645.70" stroke="#8c8c8c" stroke-width="1.8" />
<line x1="572.80" y1="645.70" x2="580.20" y2="645.70" stroke="#8c8c8c" stroke-width="1.8" />
<polygon points="566.60,643.10 569.70,648.10 563.50,648.10" fill="#000"/>
<text x="592.60" y="649.70" font-size="11.6" font-weight="normal" font-style="normal" text-anchor="start" fill="#231f20" >S</text>
<line x1="600.20" y1="645.70" x2="609.10" y2="645.70" stroke="#333" stroke-width="1.0" />
<path d="M610.60,645.70 L607.40,642.70 L608.40,645.70 L607.40,648.70 Z" fill="#222"/>
<text x="611.40" y="649.70" font-size="11.6" font-weight="normal" font-style="normal" text-anchor="start" fill="#231f20" >D</text>
<line x1="553.00" y1="662.90" x2="560.00" y2="662.90" stroke="#8c8c8c" stroke-width="1.8" />
<line x1="572.80" y1="662.90" x2="580.20" y2="662.90" stroke="#8c8c8c" stroke-width="1.8" />
<polygon points="566.60,660.10 569.40,665.50 563.80,665.50" fill="#fff" stroke="#555" stroke-width="0.8"/>
<text x="592.60" y="666.90" font-size="11.6" font-weight="normal" font-style="normal" text-anchor="start" fill="#231f20" >S</text>
<line x1="600.20" y1="662.90" x2="609.10" y2="662.90" stroke="#333" stroke-width="1.0" />
<path d="M610.60,662.90 L607.40,659.90 L608.40,662.90 L607.40,665.90 Z" fill="#222"/>
<text x="611.40" y="666.90" font-size="11.6" font-weight="normal" font-style="normal" text-anchor="start" fill="#231f20" >S</text>
<line x1="430.20" y1="684.00" x2="430.20" y2="881.40" stroke="#231f20" stroke-width="1.3" />
<line x1="430.20" y1="890.10" x2="430.20" y2="909.10" stroke="#231f20" stroke-width="1.3" />
<line x1="426.40" y1="884.70" x2="433.80" y2="878.10" stroke="#231f20" stroke-width="1.4" />
<line x1="426.40" y1="893.40" x2="433.80" y2="886.80" stroke="#231f20" stroke-width="1.4" />
<line x1="424.00" y1="684.00" x2="430.20" y2="684.00" stroke="#231f20" stroke-width="1.3" />
<text x="420.90" y="688.10" font-size="12" font-weight="normal" font-style="normal" text-anchor="end" fill="#231f20" >36</text>
<line x1="424.00" y1="728.30" x2="430.20" y2="728.30" stroke="#231f20" stroke-width="1.3" />
<text x="420.90" y="732.40" font-size="12" font-weight="normal" font-style="normal" text-anchor="end" fill="#231f20" >32</text>
<line x1="424.00" y1="773.40" x2="430.20" y2="773.40" stroke="#231f20" stroke-width="1.3" />
<text x="420.90" y="777.50" font-size="12" font-weight="normal" font-style="normal" text-anchor="end" fill="#231f20" >28</text>
<line x1="424.00" y1="818.50" x2="430.20" y2="818.50" stroke="#231f20" stroke-width="1.3" />
<text x="420.90" y="822.60" font-size="12" font-weight="normal" font-style="normal" text-anchor="end" fill="#231f20" >24</text>
<line x1="424.00" y1="863.20" x2="430.20" y2="863.20" stroke="#231f20" stroke-width="1.3" />
<text x="420.90" y="867.30" font-size="12" font-weight="normal" font-style="normal" text-anchor="end" fill="#231f20" >20</text>
<line x1="424.00" y1="909.10" x2="655.20" y2="909.10" stroke="#231f20" stroke-width="1.6" />
<text x="420.90" y="913.20" font-size="12" font-weight="normal" font-style="normal" text-anchor="end" fill="#231f20" >0</text>
<line x1="469.50" y1="909.10" x2="469.50" y2="915.40" stroke="#231f20" stroke-width="1.3" />
<text x="469.80" y="930.10" font-size="12" font-weight="bold" font-style="normal" text-anchor="middle" fill="#231f20" >PS</text>
<line x1="548.50" y1="909.10" x2="548.50" y2="915.40" stroke="#231f20" stroke-width="1.3" />
<text x="548.80" y="930.10" font-size="12" font-weight="bold" font-style="normal" text-anchor="middle" fill="#231f20" >SS 1</text>
<line x1="627.50" y1="909.10" x2="627.50" y2="915.40" stroke="#231f20" stroke-width="1.3" />
<text x="627.80" y="930.10" font-size="12" font-weight="bold" font-style="normal" text-anchor="middle" fill="#231f20" >SS 2</text>
<text transform="translate(388.00,795.90) rotate(-90)" x="0" y="0" font-size="14.7" text-anchor="middle" fill="#231f20"><tspan font-weight="bold">MCH </tspan><tspan font-weight="normal">(pg)</tspan></text>
<polyline points="469.50,821.00 548.50,832.20 627.50,851.30" fill="none" stroke="#7a7a7a" stroke-width="0.9"/>
<polyline points="469.50,760.00 548.50,740.00 627.50,855.50" fill="none" stroke="#7a7a7a" stroke-width="0.9"/>
<polyline points="469.50,746.60 548.50,752.50 627.50,761.00" fill="none" stroke="#7a7a7a" stroke-width="0.9"/>
<polyline points="469.50,760.00 548.50,785.00 627.50,834.50" fill="none" stroke="#7a7a7a" stroke-width="0.9"/>
<line x1="469.50" y1="811.50" x2="469.50" y2="821.00" stroke="#3a3a3a" stroke-width="1.0" />
<line x1="467.00" y1="811.50" x2="472.00" y2="811.50" stroke="#2a2a2a" stroke-width="1.0" />
<line x1="469.50" y1="821.00" x2="469.50" y2="829.50" stroke="#3a3a3a" stroke-width="1.0" />
<line x1="467.00" y1="829.50" x2="472.00" y2="829.50" stroke="#2a2a2a" stroke-width="1.0" />
<line x1="548.50" y1="821.50" x2="548.50" y2="832.20" stroke="#3a3a3a" stroke-width="1.0" />
<line x1="546.00" y1="821.50" x2="551.00" y2="821.50" stroke="#2a2a2a" stroke-width="1.0" />
<line x1="548.50" y1="832.20" x2="548.50" y2="843.50" stroke="#3a3a3a" stroke-width="1.0" />
<line x1="546.00" y1="843.50" x2="551.00" y2="843.50" stroke="#2a2a2a" stroke-width="1.0" />
<line x1="469.50" y1="729.50" x2="469.50" y2="760.00" stroke="#3a3a3a" stroke-width="1.0" />
<line x1="467.00" y1="729.50" x2="472.00" y2="729.50" stroke="#2a2a2a" stroke-width="1.0" />
<line x1="469.50" y1="760.00" x2="469.50" y2="790.50" stroke="#3a3a3a" stroke-width="1.0" />
<line x1="467.00" y1="790.50" x2="472.00" y2="790.50" stroke="#2a2a2a" stroke-width="1.0" />
<line x1="548.50" y1="703.50" x2="548.50" y2="740.00" stroke="#3a3a3a" stroke-width="1.0" />
<line x1="546.00" y1="703.50" x2="551.00" y2="703.50" stroke="#2a2a2a" stroke-width="1.0" />
<line x1="548.50" y1="740.00" x2="548.50" y2="776.50" stroke="#3a3a3a" stroke-width="1.0" />
<line x1="546.00" y1="776.50" x2="551.00" y2="776.50" stroke="#2a2a2a" stroke-width="1.0" />
<line x1="469.50" y1="731.50" x2="469.50" y2="746.60" stroke="#3a3a3a" stroke-width="1.0" />
<line x1="467.00" y1="731.50" x2="472.00" y2="731.50" stroke="#2a2a2a" stroke-width="1.0" />
<line x1="469.50" y1="746.60" x2="469.50" y2="762.50" stroke="#3a3a3a" stroke-width="1.0" />
<line x1="467.00" y1="762.50" x2="472.00" y2="762.50" stroke="#2a2a2a" stroke-width="1.0" />
<line x1="548.50" y1="724.50" x2="548.50" y2="752.50" stroke="#3a3a3a" stroke-width="1.0" />
<line x1="546.00" y1="724.50" x2="551.00" y2="724.50" stroke="#2a2a2a" stroke-width="1.0" />
<line x1="548.50" y1="752.50" x2="548.50" y2="780.50" stroke="#3a3a3a" stroke-width="1.0" />
<line x1="546.00" y1="780.50" x2="551.00" y2="780.50" stroke="#2a2a2a" stroke-width="1.0" />
<line x1="627.50" y1="736.50" x2="627.50" y2="761.00" stroke="#3a3a3a" stroke-width="1.0" />
<line x1="625.00" y1="736.50" x2="630.00" y2="736.50" stroke="#2a2a2a" stroke-width="1.0" />
<line x1="627.50" y1="761.00" x2="627.50" y2="785.50" stroke="#3a3a3a" stroke-width="1.0" />
<line x1="625.00" y1="785.50" x2="630.00" y2="785.50" stroke="#2a2a2a" stroke-width="1.0" />
<line x1="469.50" y1="713.50" x2="469.50" y2="760.00" stroke="#3a3a3a" stroke-width="1.0" />
<line x1="467.00" y1="713.50" x2="472.00" y2="713.50" stroke="#2a2a2a" stroke-width="1.0" />
<line x1="469.50" y1="760.00" x2="469.50" y2="806.50" stroke="#3a3a3a" stroke-width="1.0" />
<line x1="467.00" y1="806.50" x2="472.00" y2="806.50" stroke="#2a2a2a" stroke-width="1.0" />
<line x1="548.50" y1="759.50" x2="548.50" y2="785.00" stroke="#3a3a3a" stroke-width="1.0" />
<line x1="546.00" y1="759.50" x2="551.00" y2="759.50" stroke="#2a2a2a" stroke-width="1.0" />
<line x1="548.50" y1="785.00" x2="548.50" y2="809.50" stroke="#3a3a3a" stroke-width="1.0" />
<line x1="546.00" y1="809.50" x2="551.00" y2="809.50" stroke="#2a2a2a" stroke-width="1.0" />
<line x1="627.50" y1="824.50" x2="627.50" y2="834.50" stroke="#3a3a3a" stroke-width="1.0" />
<line x1="625.00" y1="824.50" x2="630.00" y2="824.50" stroke="#2a2a2a" stroke-width="1.0" />
<line x1="627.50" y1="834.50" x2="627.50" y2="844.50" stroke="#3a3a3a" stroke-width="1.0" />
<line x1="625.00" y1="844.50" x2="630.00" y2="844.50" stroke="#2a2a2a" stroke-width="1.0" />
<rect x="466.40" y="817.90" width="6.2" height="6.2" fill="#000"/>
<rect x="545.40" y="829.10" width="6.2" height="6.2" fill="#000"/>
<rect x="624.40" y="848.20" width="6.2" height="6.2" fill="#000"/>
<rect x="466.80" y="757.30" width="5.4" height="5.4" fill="#fff" stroke="#222" stroke-width="1.0"/>
<rect x="545.80" y="737.30" width="5.4" height="5.4" fill="#fff" stroke="#222" stroke-width="1.0"/>
<rect x="624.80" y="852.80" width="5.4" height="5.4" fill="#fff" stroke="#222" stroke-width="1.0"/>
<polygon points="469.50,743.50 472.80,749.30 466.20,749.30" fill="#000"/>
<polygon points="548.50,749.40 551.80,755.20 545.20,755.20" fill="#000"/>
<polygon points="627.50,757.90 630.80,763.70 624.20,763.70" fill="#000"/>
<polygon points="469.50,757.30 472.40,762.40 466.60,762.40" fill="#fff" stroke="#444" stroke-width="0.85"/>
<polygon points="548.50,782.30 551.40,787.40 545.60,787.40" fill="#fff" stroke="#444" stroke-width="0.85"/>
<polygon points="627.50,831.80 630.40,836.90 624.60,836.90" fill="#fff" stroke="#444" stroke-width="0.85"/>
</svg>
</body></html>
